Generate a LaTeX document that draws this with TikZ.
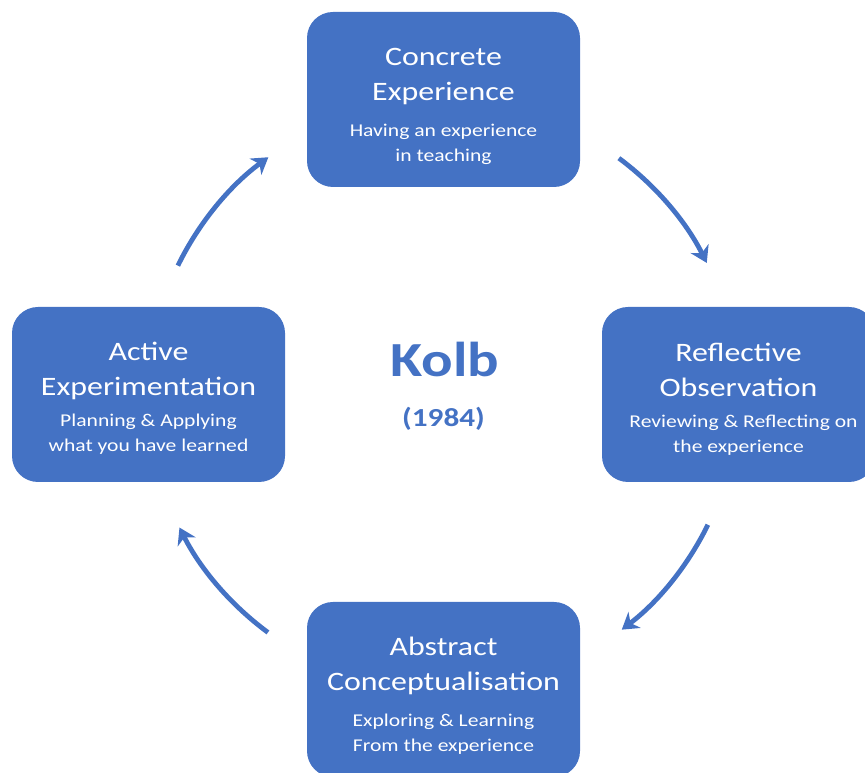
\documentclass[tikz,border=0pt]{standalone}
\usepackage{fontspec}
\newfontfamily\calfont[FakeStretch=1.2]{Carlito}
\usetikzlibrary{arrows.meta}
\definecolor{kblue}{HTML}{4472C4}
\tikzset{
  stagebox/.style={rectangle, fill=kblue, rounded corners=26pt, minimum width=273pt, minimum height=175pt, inner sep=0pt},
  ttl/.style={anchor=base, text=white, inner sep=0pt, font=\calfont\fontsize{26.6}{30}\selectfont},
  sub/.style={anchor=base, text=white, inner sep=0pt, font=\calfont\fontsize{18}{21}\selectfont},
  cyc/.style={draw=kblue, line width=4.8pt, -{Stealth[length=16pt,width=20pt,inset=5pt]}}
}
\begin{document}
\begin{tikzpicture}
\useasboundingbox (0,0) rectangle (865pt,773pt);
% boxes
\node[stagebox] (ce) at (443.5pt,673.5pt) {};
\node[stagebox] (ro) at (738.5pt,378.5pt) {};
\node[stagebox] (ac) at (443.5pt,83.5pt) {};
\node[stagebox] (ae) at (148.5pt,378.5pt) {};
% texts
\node[ttl] (ce1) at ([yshift=-53.5pt]ce.north) {Concrete};
\node[ttl] (ce2) at ([yshift=-88.5pt]ce.north) {Experience};
\node[sub] (ce3) at ([yshift=-124.7pt]ce.north) {Having an experience};
\node[sub] (ce4) at ([yshift=-149.5pt]ce.north) {in teaching};

\node[ttl] (ro1) at ([yshift=-54.5pt]ro.north) {Reflective};
\node[ttl] (ro2) at ([yshift=-89.5pt]ro.north) {Observation};
\node[sub] (ro3) at ([xshift=5pt,yshift=-121pt]ro.north) {Reviewing \& Reflecting on};
\node[sub] (ro4) at ([yshift=-146pt]ro.north) {the experience};

\node[ttl] (ac1) at ([yshift=-53.7pt]ac.north) {Abstract};
\node[ttl] (ac2) at ([yshift=-88.7pt]ac.north) {Conceptualisation};
\node[sub] (ac3) at ([yshift=-124.7pt]ac.north) {Exploring \& Learning};
\node[sub] (ac4) at ([yshift=-149.7pt]ac.north) {From the experience};

\node[ttl] (ae1) at ([yshift=-53.7pt]ae.north) {Active};
\node[ttl] (ae2) at ([yshift=-88.3pt]ae.north) {Experimentation};
\node[sub] (ae3) at ([yshift=-120pt]ae.north) {Planning \& Applying};
\node[sub] (ae4) at ([yshift=-145pt]ae.north) {what you have learned};

% centre title
\node[anchor=base, text=kblue, inner sep=0pt, font=\calfont\bfseries\fontsize{49}{55}\selectfont] (kolb) at (445pt,396pt) {Kolb};
\node[anchor=base, text=kblue, inner sep=0pt, font=\calfont\bfseries\fontsize{26}{30}\selectfont] (year) at (443.5pt,346pt) {(1984)};

% cycle arrows
\coordinate (O) at (443pt,378pt);
\coordinate (s1) at ([shift={(154:295pt)}]O);
\coordinate (s2) at ([shift={(53.4:295pt)}]O);
\coordinate (s3) at ([shift={(-26.1:295pt)}]O);
\coordinate (s4) at ([shift={(-126.4:295pt)}]O);
\draw[cyc] (s1) arc[start angle=154, end angle=126.3, radius=295pt];
\draw[cyc] (s2) arc[start angle=53.4, end angle=26.6, radius=295pt];
\draw[cyc] (s3) arc[start angle=-26.1, end angle=-52.7, radius=295pt];
\draw[cyc] (s4) arc[start angle=-126.4, end angle=-153.3, radius=295pt];
\end{tikzpicture}
\end{document}
